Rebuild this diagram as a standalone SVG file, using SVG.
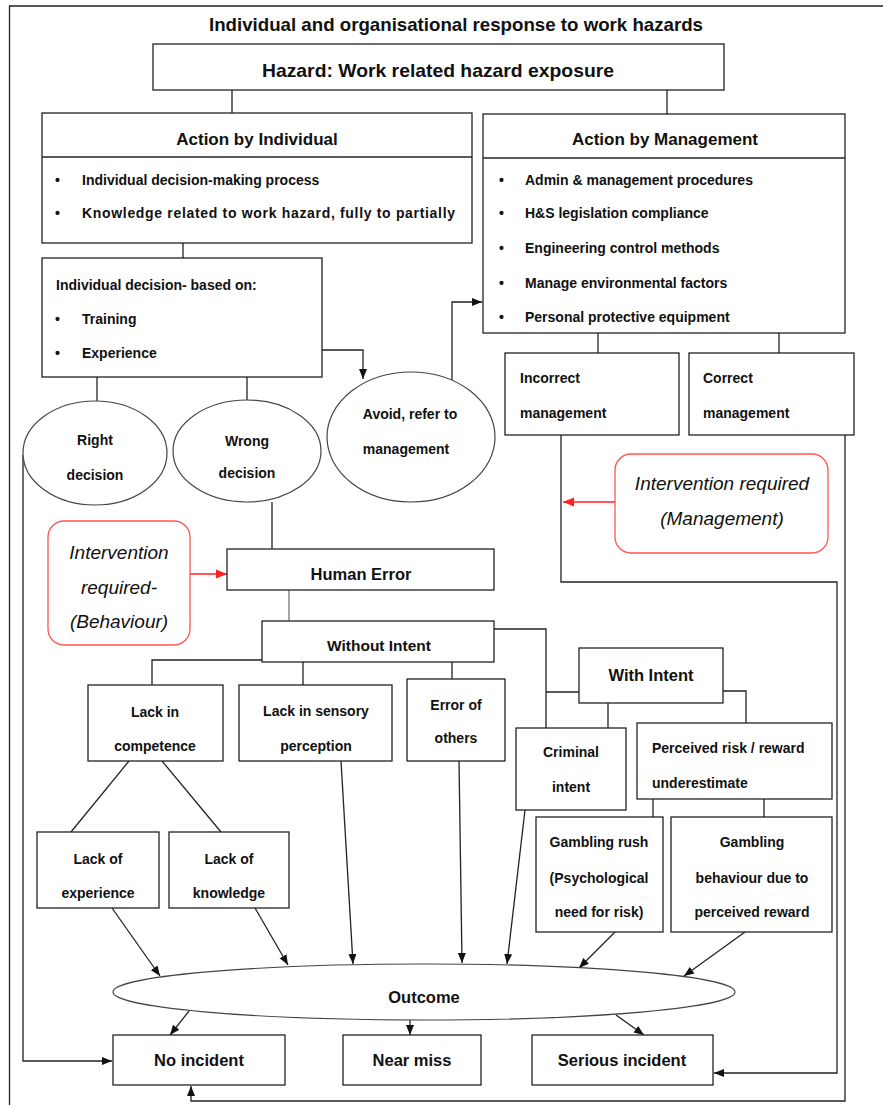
<svg xmlns="http://www.w3.org/2000/svg" width="883" height="1105" viewBox="0 0 883 1105">
<style>
text{font-family:"Liberation Sans",Arial,sans-serif;font-weight:bold;font-size:14px;fill:#111}
.c{text-anchor:middle}
.h{font-size:17px}
.b{font-size:16.5px}
.it{font-style:italic;font-weight:normal;font-size:19px}
.box{fill:#fff;stroke:#222;stroke-width:1.3}
.ell{fill:#fff;stroke:#444;stroke-width:1.2}
.red{fill:#fff;stroke:#ff5555;stroke-width:1.3}
.ln{fill:none;stroke:#222;stroke-width:1.3}
.gl{fill:none;stroke:#777;stroke-width:1.3}
.rl{fill:none;stroke:#ff2020;stroke-width:1.6}
</style>
<defs>
<marker id="ah" viewBox="0 0 10 10" refX="10" refY="5" markerWidth="10" markerHeight="10" markerUnits="userSpaceOnUse" orient="auto"><path d="M0,1 L10,5 L0,9 z" fill="#111"/></marker>
<marker id="ahr" viewBox="0 0 10 10" refX="10" refY="5" markerWidth="11" markerHeight="11" markerUnits="userSpaceOnUse" orient="auto"><path d="M0,1 L10,5 L0,9 z" fill="#ff2020"/></marker>
</defs>
<rect width="883" height="1105" fill="#fff"/>
<path d="M9.5,1105 V6 H883" fill="none" stroke="#222" stroke-width="1.3"/>
<text class="c" x="456" y="31" style="font-size:18.5px" textLength="494" lengthAdjust="spacingAndGlyphs">Individual and organisational response to work hazards</text>

<g id="connectors">
<path class="ln" d="M232,90 V113"/>
<path class="ln" d="M667,90 V114"/>
<path class="ln" d="M183,243 V258"/>
<path class="ln" d="M322,350 H363 V379" marker-end="url(#ah)"/>
<path class="ln" d="M97,377 V401"/>
<path class="ln" d="M247,377 V400"/>
<path class="ln" d="M452,380 V302 H482" marker-end="url(#ah)"/>
<path class="ln" d="M23,455 V1061 H112" marker-end="url(#ah)"/>
<path class="ln" d="M598,333 V353"/>
<path class="ln" d="M779,333 V353"/>
<path class="ln" d="M561,435 V582 H837 V1073 H714" marker-end="url(#ah)"/>
<path class="ln" d="M845,435 V1101 H191 V1086" marker-end="url(#ah)"/>
<path class="rl" d="M615,502 H563" marker-end="url(#ahr)"/>
<path class="rl" d="M190,574 H227" marker-end="url(#ahr)"/>
<path class="ln" d="M272,502 V549"/>
<path class="gl" d="M289,590 V621"/>
<path class="ln" d="M262,660 H152 V685"/>
<path class="ln" d="M303,662 V685"/>
<path class="ln" d="M452,662 V679"/>
<path class="ln" d="M494,629 H546 V728"/>
<path class="ln" d="M546,692 H579"/>
<path class="ln" d="M608,703 V728"/>
<path class="ln" d="M723,691 H746 V723"/>
<path class="ln" d="M653,799 V817"/>
<path class="ln" d="M764,799 V817"/>
<path class="ln" d="M129,761 L71,832"/>
<path class="ln" d="M162,761 L221,832"/>
<path class="ln" d="M112,908 L160,976" marker-end="url(#ah)"/>
<path class="ln" d="M255,908 L288,965" marker-end="url(#ah)"/>
<path class="ln" d="M341,761 L353,964" marker-end="url(#ah)"/>
<path class="ln" d="M459,761 L462,963" marker-end="url(#ah)"/>
<path class="ln" d="M525,810 L507,964" marker-end="url(#ah)"/>
<path class="ln" d="M615,932 L579,968" marker-end="url(#ah)"/>
<path class="ln" d="M745,932 L684,976" marker-end="url(#ah)"/>
<path class="ln" d="M189,1011 L170,1035" marker-end="url(#ah)"/>
<path class="ln" d="M410,1020 V1035" marker-end="url(#ah)"/>
<path class="ln" d="M616,1015 L644,1035" marker-end="url(#ah)"/>
</g>

<g id="hazard">
<rect class="box" x="153" y="44" width="571" height="46"/>
<text class="c" x="438" y="77" style="font-size:18.5px" textLength="352" lengthAdjust="spacingAndGlyphs">Hazard: Work related hazard exposure</text>
</g>

<g id="action-individual">
<rect class="box" x="42" y="113" width="430" height="130"/>
<path class="ln" d="M42,157 H472"/>
<text class="c h" x="257" y="145">Action by Individual</text>
<text x="55" y="185">•</text><text x="82" y="185">Individual decision-making process</text>
<text x="55" y="218">•</text><text x="82" y="218" textLength="373" lengthAdjust="spacing">Knowledge related to work hazard, fully to partially</text>
</g>

<g id="individual-decision">
<rect class="box" x="42" y="258" width="280" height="119"/>
<text x="56" y="290">Individual decision- based on:</text>
<text x="55" y="324">•</text><text x="82" y="324">Training</text>
<text x="55" y="358">•</text><text x="82" y="358">Experience</text>
</g>

<g id="right-decision">
<ellipse class="ell" cx="95" cy="453" rx="72" ry="52"/>
<text class="c" x="95" y="445">Right</text>
<text class="c" x="95" y="480">decision</text>
</g>

<g id="wrong-decision">
<ellipse class="ell" cx="247" cy="451" rx="74" ry="51"/>
<text class="c" x="247" y="446">Wrong</text>
<text class="c" x="247" y="478">decision</text>
</g>

<g id="avoid">
<ellipse class="ell" cx="411" cy="437" rx="84" ry="65"/>
<text class="c" x="410" y="419">Avoid, refer to</text>
<text class="c" x="406" y="454">management</text>
</g>

<g id="action-management">
<rect class="box" x="483" y="114" width="362" height="219"/>
<path class="ln" d="M483,158 H845"/>
<text class="c h" x="665" y="145">Action by Management</text>
<text x="499" y="185">•</text><text x="525" y="185">Admin &amp; management procedures</text>
<text x="499" y="218">•</text><text x="525" y="218">H&amp;S legislation compliance</text>
<text x="499" y="253">•</text><text x="525" y="253">Engineering control methods</text>
<text x="499" y="288">•</text><text x="525" y="288">Manage environmental factors</text>
<text x="499" y="322">•</text><text x="525" y="322">Personal protective equipment</text>
</g>

<g id="incorrect-management">
<rect class="box" x="505" y="353" width="174" height="82"/>
<text x="520" y="383">Incorrect</text>
<text x="520" y="418">management</text>
</g>

<g id="correct-management">
<rect class="box" x="689" y="353" width="165" height="82"/>
<text x="703" y="383">Correct</text>
<text x="703" y="418">management</text>
</g>

<g id="intervention-management">
<rect class="red" x="615" y="454" width="213" height="99" rx="16"/>
<text class="c it" x="722" y="490">Intervention required</text>
<text class="c it" x="722" y="525">(Management)</text>
</g>

<g id="intervention-behaviour">
<rect class="red" x="48" y="521" width="142" height="124" rx="16"/>
<text class="c it" x="119" y="559">Intervention</text>
<text class="c it" x="119" y="594">required-</text>
<text class="c it" x="119" y="628">(Behaviour)</text>
</g>

<g id="human-error">
<rect class="box" x="227" y="549" width="267" height="41"/>
<text class="c b" x="361" y="580">Human Error</text>
</g>

<g id="without-intent">
<rect class="box" x="262" y="621" width="232" height="41"/>
<text class="c" x="379" y="651" style="font-size:15.5px">Without Intent</text>
</g>

<g id="with-intent">
<rect class="box" x="579" y="648" width="144" height="55"/>
<text class="c b" x="651" y="681">With Intent</text>
</g>

<g id="lack-competence">
<rect class="box" x="88" y="685" width="135" height="76"/>
<text class="c" x="155" y="717">Lack in</text>
<text class="c" x="155" y="751">competence</text>
</g>

<g id="lack-sensory">
<rect class="box" x="239" y="685" width="153" height="76"/>
<text class="c" x="316" y="716">Lack in sensory</text>
<text class="c" x="316" y="751">perception</text>
</g>

<g id="error-others">
<rect class="box" x="407" y="679" width="98" height="82"/>
<text class="c" x="456" y="710">Error of</text>
<text class="c" x="456" y="743">others</text>
</g>

<g id="criminal-intent">
<rect class="box" x="516" y="728" width="110" height="82"/>
<text class="c" x="571" y="757">Criminal</text>
<text class="c" x="571" y="792">intent</text>
</g>

<g id="perceived-risk">
<rect class="box" x="637" y="723" width="195" height="76"/>
<text x="652" y="753">Perceived risk / reward</text>
<text x="652" y="788">underestimate</text>
</g>

<g id="gambling-rush">
<rect class="box" x="536" y="817" width="127" height="115"/>
<text class="c" x="599" y="847">Gambling rush</text>
<text class="c" x="599" y="883">(Psychological</text>
<text class="c" x="599" y="917">need for risk)</text>
</g>

<g id="gambling-behaviour">
<rect class="box" x="671" y="817" width="161" height="115"/>
<text class="c" x="752" y="847">Gambling</text>
<text class="c" x="752" y="883">behaviour due to</text>
<text class="c" x="752" y="917">perceived reward</text>
</g>

<g id="lack-experience">
<rect class="box" x="37" y="832" width="122" height="76"/>
<text class="c" x="98" y="864">Lack of</text>
<text class="c" x="98" y="898">experience</text>
</g>

<g id="lack-knowledge">
<rect class="box" x="169" y="832" width="120" height="76"/>
<text class="c" x="229" y="864">Lack of</text>
<text class="c" x="229" y="898">knowledge</text>
</g>

<g id="outcome">
<ellipse class="ell" cx="424" cy="992" rx="311" ry="28"/>
<text class="c b" x="424" y="1003">Outcome</text>
</g>

<g id="no-incident">
<rect class="box" x="113" y="1035" width="172" height="50"/>
<text class="c b" x="199" y="1066">No incident</text>
</g>

<g id="near-miss">
<rect class="box" x="343" y="1035" width="138" height="50"/>
<text class="c b" x="412" y="1066">Near miss</text>
</g>

<g id="serious-incident">
<rect class="box" x="532" y="1035" width="181" height="50"/>
<text class="c b" x="622" y="1066">Serious incident</text>
</g>
</svg>
